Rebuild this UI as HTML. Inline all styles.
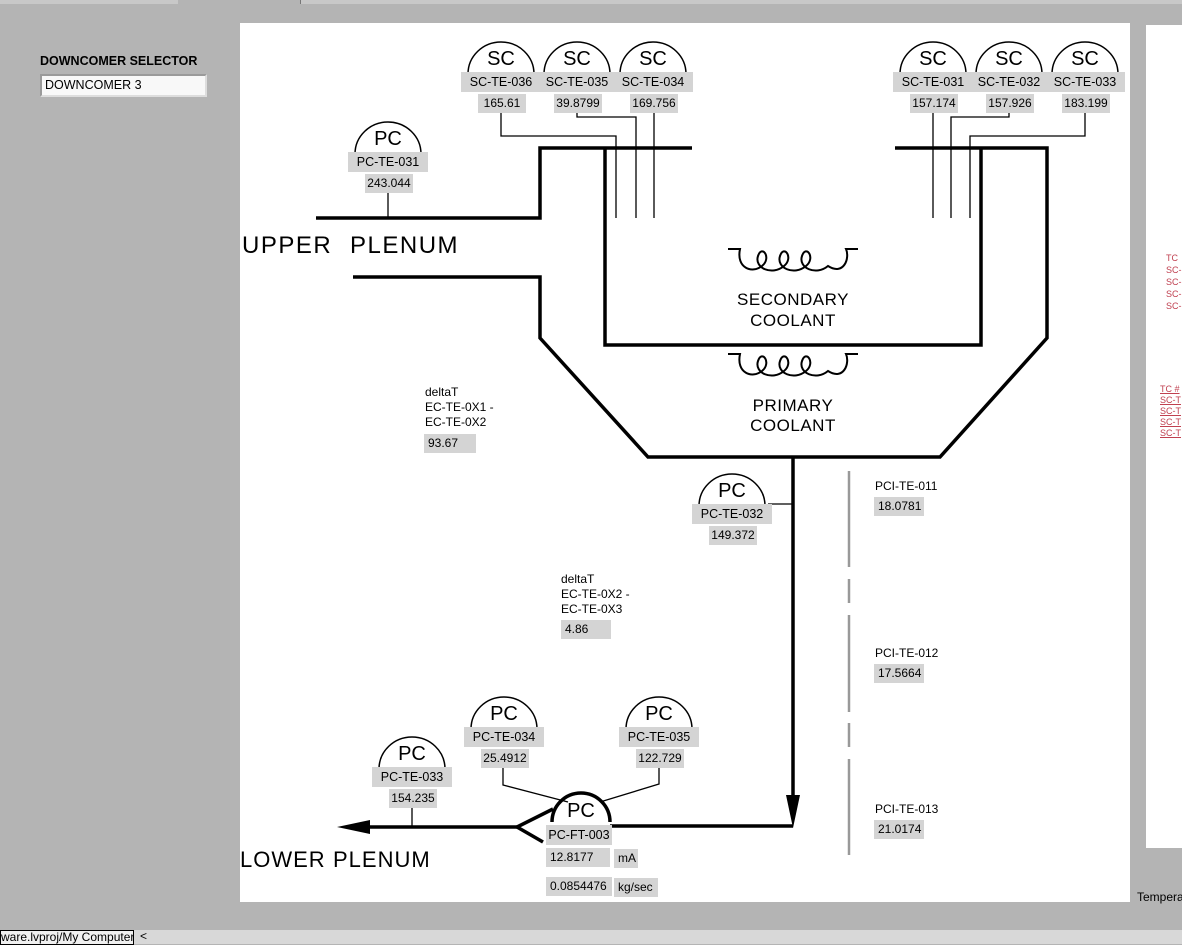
<!DOCTYPE html>
<html><head><meta charset="utf-8"><style>
html,body{margin:0;padding:0}
body{width:1182px;height:944px;background:#b4b4b4;position:relative;overflow:hidden;font-family:"Liberation Sans",sans-serif}
.a{position:absolute}
</style></head><body>
<div class="a" style="left:0;top:0;width:178px;height:4px;background:#c8c8c8"></div>
<div class="a" style="left:300px;top:0;width:882px;height:4px;background:#c8c8c8;border-left:1px solid #777"></div>
<div class="a" style="left:40px;top:54px;font-size:12.5px;font-weight:bold;color:#000">DOWNCOMER SELECTOR</div>
<div class="a" style="left:40px;top:74px;width:160px;height:19px;background:#f8f8f8;border:2px solid #9a9a9a;border-right-color:#ddd;border-bottom-color:#ddd;font-size:12.5px;line-height:19px;padding-left:3px;box-sizing:content-box">DOWNCOMER 3</div>
<div class="a" style="left:240px;top:23px;width:890px;height:879px;background:#fff"></div>
<div class="a" style="left:1146px;top:25px;width:36px;height:823px;background:#fff"></div>
<div class="a" style="left:1166px;top:252px;font-size:9px;line-height:12px;color:#c04050">TC<br>SC-<br>SC-<br>SC-<br>SC-</div>
<div class="a" style="left:1160px;top:384px;font-size:9px;line-height:11px;color:#c04050;text-decoration:underline">TC #<br>SC-T<br>SC-T<br>SC-T<br>SC-T</div>
<div class="a" style="left:1137px;top:890px;font-size:12px">Tempera</div>
<div class="a" style="left:0;top:930px;width:1182px;height:14px;background:#d8d8d8"></div>
<div class="a" style="left:0;top:930px;width:132px;height:13px;border:1px solid #000;background:#f0f0f0;font-size:12px;line-height:13px;white-space:nowrap;overflow:hidden">ware.lvproj/My Computer</div>
<div class="a" style="left:140px;top:929px;font-size:12px">&lt;</div>

<svg class="a" style="left:0;top:0" width="1182" height="944" viewBox="0 0 1182 944">
<g fill="none" stroke="#000" stroke-width="3.5">
<polyline points="316,218 540,218 540,148 692,148"/>
<polyline points="353,277 540,277 540,338 648,457 940,457 1047,338 1047,148 895,148"/>
<polyline points="605,148 605,345 981,345 981,148"/>
<line x1="793" y1="457" x2="793" y2="800"/>
<polyline points="793,826 610,826"/>
<line x1="368" y1="827" x2="517" y2="827"/>
<polyline points="553,809 517,827 543,842"/>
<path d="M552,822 A29,29 0 0 1 610,822"/>
</g>
<polygon points="786,795 800,795 793,828" fill="#000"/>
<polygon points="337,827 370,820 370,834" fill="#000"/>
<g fill="none" stroke="#000" stroke-width="1.3">
<polyline points="501,112 501,136 616,136 616,218"/>
<polyline points="577,112 577,117 636,117 636,218"/>
<line x1="654" y1="112" x2="654" y2="218"/>
<line x1="933" y1="112" x2="933" y2="218"/>
<polyline points="1009,112 1009,117 951,117 951,218"/>
<polyline points="1085,112 1085,136 970,136 970,218"/>
<line x1="388" y1="193" x2="388" y2="218"/>
<line x1="768" y1="504" x2="793" y2="504"/>
<line x1="412" y1="808" x2="412" y2="827"/>
<polyline points="503,762 503,785 568,802"/>
<polyline points="659,762 659,784 600,802"/>
</g>
<g fill="none" stroke="#000" stroke-width="2">
<path d="M728,249 H740 C736,268 752,274 762,266 C772,258 762,244 758,256 C754,268 772,276 784,266 C794,258 784,244 780,256 C776,268 794,276 806,266 C816,258 806,244 802,256 C798,268 816,276 828,266 C844,276 850,258 846,249 H858"/>
<path d="M728,354 H740 C736,373 752,379 762,371 C772,363 762,349 758,361 C754,373 772,381 784,371 C794,363 784,349 780,361 C776,373 794,381 806,371 C816,363 806,349 802,361 C798,373 816,381 828,371 C844,381 850,363 846,354 H858"/>
</g>
<g stroke="#999" stroke-width="2.5">
<line x1="849" y1="471" x2="849" y2="567"/><line x1="849" y1="579" x2="849" y2="603"/>
<line x1="849" y1="615" x2="849" y2="712"/><line x1="849" y1="723" x2="849" y2="747"/>
<line x1="849" y1="759" x2="849" y2="855"/>
</g>
<g font-family="Liberation Sans,sans-serif" fill="#000">
<text x="242" y="253" font-size="24" letter-spacing="1.5">UPPER</text>
<text x="350" y="253" font-size="24" letter-spacing="1.5">PLENUM</text>
<text x="240" y="867" font-size="22" letter-spacing="1">LOWER</text>
<text x="333" y="867" font-size="22" letter-spacing="1">PLENUM</text>
<g font-size="17" text-anchor="middle" letter-spacing="0.5">
<text x="793" y="305">SECONDARY</text><text x="793" y="326">COOLANT</text>
<text x="793" y="411">PRIMARY</text><text x="793" y="431">COOLANT</text>
</g>
</g>
</svg>

<div id="g"></div>
<script>
var gs=[["SC","SC-TE-036","165.61",501,42],["SC","SC-TE-035","39.8799",577,42],["SC","SC-TE-034","169.756",653,42],
["SC","SC-TE-031","157.174",933,42],["SC","SC-TE-032","157.926",1009,42],["SC","SC-TE-033","183.199",1085,42],
["PC","PC-TE-031","243.044",388,122],["PC","PC-TE-032","149.372",732,474],["PC","PC-TE-033","154.235",412,737],
["PC","PC-TE-034","25.4912",504,697],["PC","PC-TE-035","122.729",659,697]];
var h="";
gs.forEach(function(g){var x=g[3],y=g[4];
h+='<svg class="a" style="left:'+(x-35)+'px;top:'+(y-2)+'px" width="70" height="36"><path d="M2,34 A33,32 0 0 1 68,34" fill="none" stroke="#000" stroke-width="1.5"/></svg>';
h+='<div class="a" style="left:'+(x-40)+'px;top:'+(y+6)+'px;width:80px;text-align:center;font-size:20px;">'+g[0]+'</div>';
h+='<div class="a" style="left:'+(x-40)+'px;top:'+(y+30)+'px;width:80px;height:20px;background:#d4d4d4;text-align:center;font-size:12.5px;line-height:20px">'+g[1]+'</div>';
h+='<div class="a" style="left:'+(x-23)+'px;top:'+(y+52)+'px;width:48px;height:19px;background:#d4d4d4;text-align:center;font-size:12px;line-height:19px">'+g[2]+'</div>';
});
function box(l,t,w,txt){h+='<div class="a" style="left:'+l+'px;top:'+t+'px;width:'+(w-4)+'px;padding-left:4px;height:19px;background:#d4d4d4;font-size:12px;line-height:19px">'+txt+'</div>';}
function lab(l,t,txt){h+='<div class="a" style="left:'+l+'px;top:'+t+'px;font-size:12px;line-height:15px">'+txt+'</div>';}
lab(425,385,"deltaT<br>EC-TE-0X1 -<br>EC-TE-0X2");box(424,434,52,"93.67");
lab(561,572,"deltaT<br>EC-TE-0X2 -<br>EC-TE-0X3");box(561,620,50,"4.86");
lab(875,479,"PCI-TE-011");box(874,497,50,"18.0781");
lab(875,646,"PCI-TE-012");box(874,664,50,"17.5664");
lab(875,802,"PCI-TE-013");box(874,820,50,"21.0174");
h+='<div class="a" style="left:556px;top:800px;width:50px;text-align:center;font-size:20px">PC</div>';
h+='<div class="a" style="left:546px;top:825px;width:66px;height:20px;background:#d4d4d4;text-align:center;font-size:12.5px;line-height:20px">PC-FT-003</div>';
box(546,848,64,"12.8177");box(614,849,24,"mA");box(546,877,66,"0.0854476");box(614,878,44,"kg/sec");
document.getElementById("g").innerHTML=h;
</script>
</body></html>
